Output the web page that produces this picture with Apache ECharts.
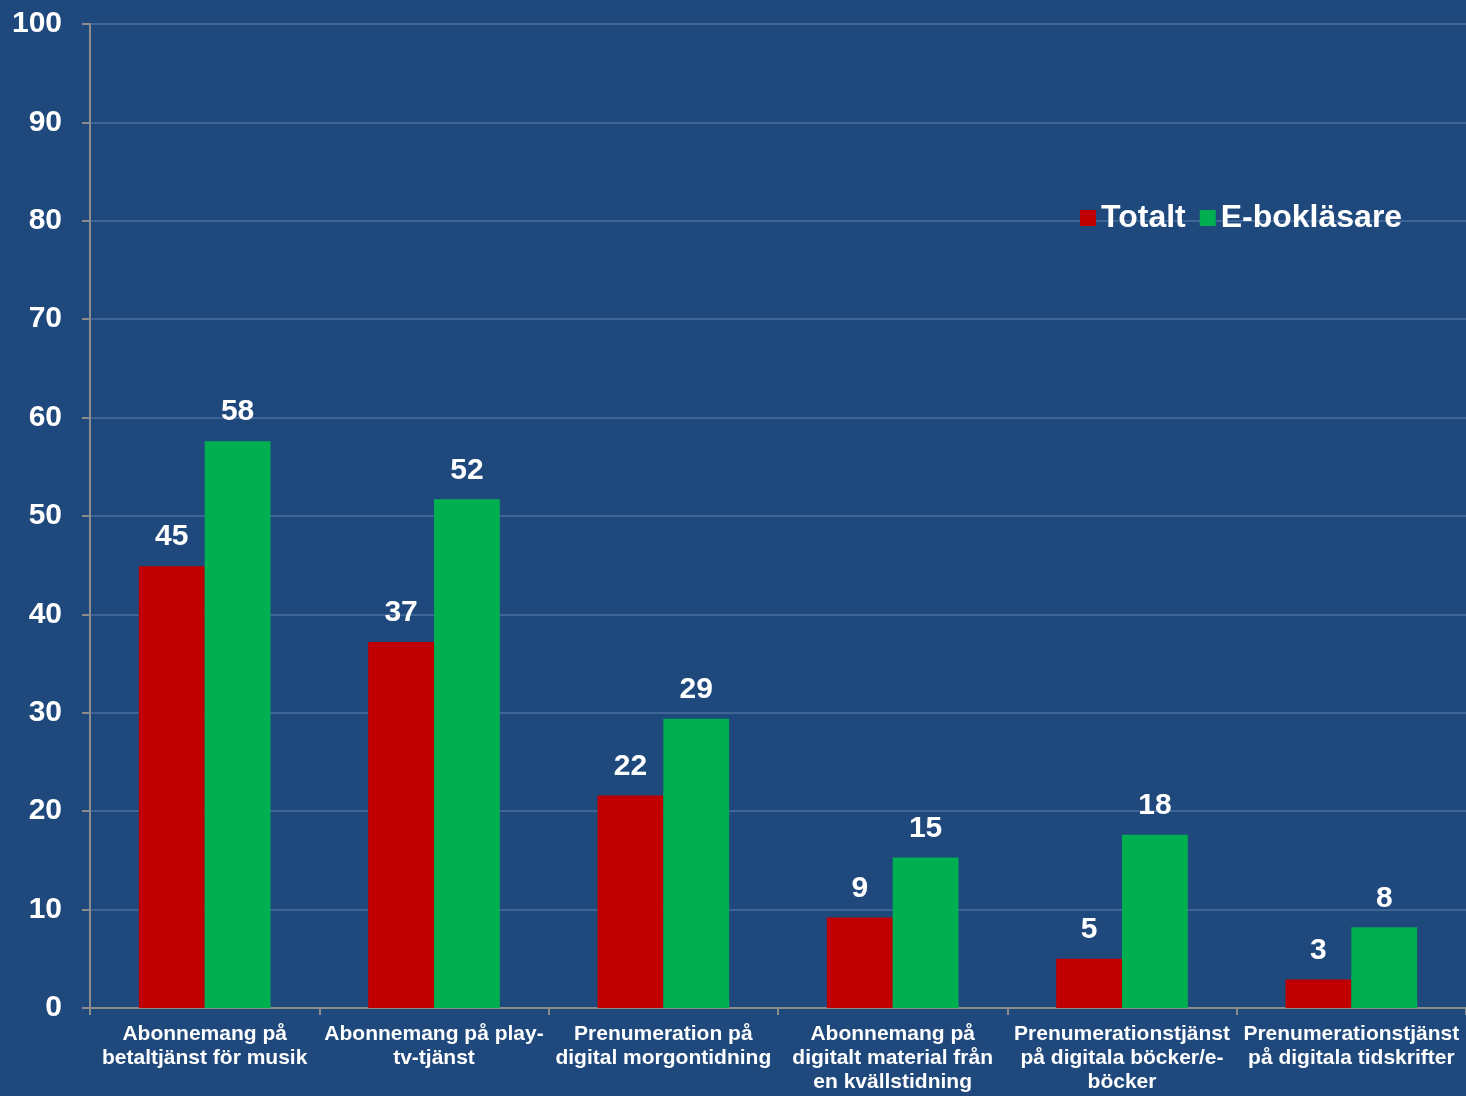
<!DOCTYPE html>
<html>
<head>
<meta charset="utf-8">
<script src="https://cdn.jsdelivr.net/npm/echarts@6/dist/echarts.min.js"></script>
<style>
html,body{margin:0;padding:0;background:#1F497D;}
#c{width:1466px;height:1096px;}
</style>
</head>
<body>
<div id="c"></div>
<script>
const categories = [
  "Abonnemang på\nbetaltjänst för musik",
  "Abonnemang på play-\ntv-tjänst",
  "Prenumeration på\ndigital morgontidning",
  "Abonnemang på\ndigitalt material från\nen kvällstidning",
  "Prenumerationstjänst\npå digitala böcker/e-\nböcker",
  "Prenumerationstjänst\npå digitala tidskrifter"
];
const totalt = [44.9, 37.2, 21.6, 9.2, 5.0, 2.9];
const ebok = [57.6, 51.7, 29.4, 15.3, 17.6, 8.2];
const yTicks = [0, 10, 20, 30, 40, 50, 60, 70, 80, 90, 100];

const font = "Liberation Sans, Arial, sans-serif";
const chart = echarts.init(document.getElementById('c'));
const labelCfg = {
  show: true, position: 'top', distance: 14,
  color: '#FFFFFF', fontFamily: font, fontWeight: 'bold', fontSize: 30,
  formatter: p => Math.round(p.value)
};
chart.setOption({
  backgroundColor: '#1F497D',
  animation: false,
  grid: {left: 90, width: 1380, top: 24, bottom: 88, containLabel: false},
  legend: {
    left: 1075, top: 197,
    itemWidth: 16, itemHeight: 16, itemGap: 14,
    icon: 'rect',
    textStyle: {color: '#FFFFFF', fontFamily: font, fontWeight: 'bold', fontSize: 32},
    data: ['Totalt', 'E-bokläsare']
  },
  xAxis: {
    type: 'category',
    data: categories,
    axisLine: {lineStyle: {color: '#8C8C8C', width: 2}},
    axisTick: {show: true, length: 7, lineStyle: {color: '#8C8C8C', width: 2}},
    axisLabel: {
      color: '#FFFFFF', fontFamily: font, fontWeight: 'bold', fontSize: 21,
      lineHeight: 24, margin: 14, interval: 0
    }
  },
  yAxis: {
    type: 'value', min: yTicks[0], max: yTicks[yTicks.length - 1], interval: 10,
    axisLine: {show: true, lineStyle: {color: '#8C8C8C', width: 2}},
    axisTick: {show: true, length: 8, lineStyle: {color: '#8C8C8C', width: 2}},
    splitLine: {lineStyle: {color: '#3E6596', width: 2}},
    axisLabel: {color: '#FFFFFF', fontFamily: font, fontWeight: 'bold', fontSize: 30, margin: 28}
  },
  series: [
    {name: 'Totalt', type: 'bar', data: totalt, barGap: '0%', barCategoryGap: '42.6%',
     itemStyle: {color: '#C00000'}, label: labelCfg},
    {name: 'E-bokläsare', type: 'bar', data: ebok, barGap: '0%', barCategoryGap: '42.6%',
     itemStyle: {color: '#00B050'}, label: labelCfg}
  ]
});
</script>
</body>
</html>
